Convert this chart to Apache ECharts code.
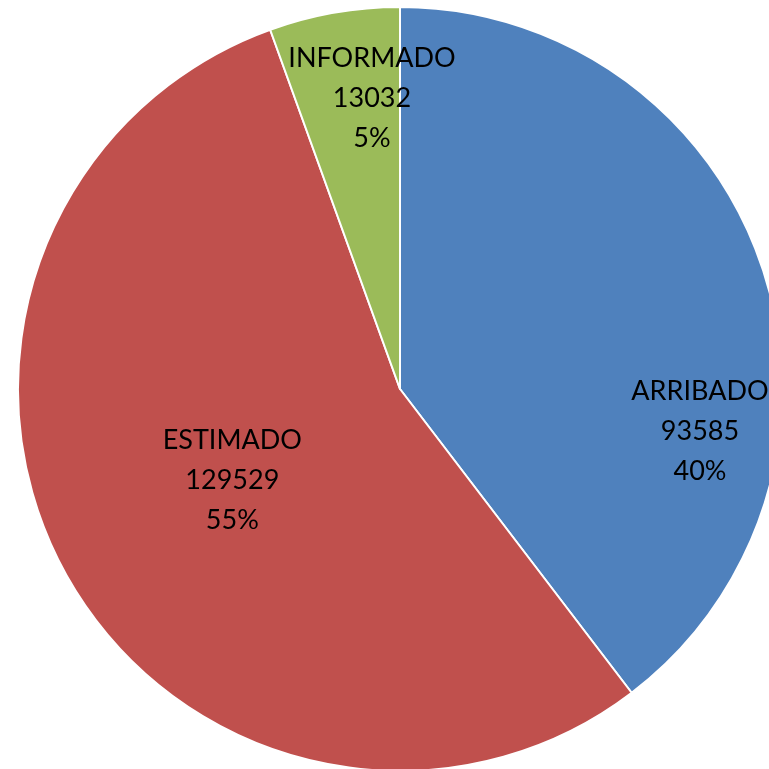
<!DOCTYPE html>
<html>
<head>
<meta charset="utf-8">
<script src="https://cdn.jsdelivr.net/npm/echarts@6/dist/echarts.min.js"></script>
<style>html,body{margin:0;padding:0;background:#fff;}#c{width:769px;height:769px;}</style>
</head>
<body>
<div id="c"></div>
<script>
var categories = ['ARRIBADO', 'ESTIMADO', 'INFORMADO'];
var values = [93585, 129529, 13032];
var colors = ['#4F81BD', '#C0504D', '#9BBB59'];
// label placement (polar: angle clockwise from top in degrees, fraction of radius)
var labelPolar = [[98, 0.793], [241.4, 0.5], [354.5, 0.765]];

var CX = 400, CY = 389, R = 382;
var chart = echarts.init(document.getElementById('c'));
chart.setOption({
  animation: false,
  series: [{
    type: 'pie',
    center: [CX, CY],
    radius: R,
    startAngle: 90,
    clockwise: true,
    percentPrecision: 0,
    data: categories.map(function (n, i) {
      return { name: n, value: values[i], itemStyle: { color: colors[i] } };
    }),
    itemStyle: { borderColor: '#ffffff', borderWidth: 2 },
    label: {
      show: true,
      position: 'inside',
      formatter: '{b}\n{c}\n{d}%',
      color: '#000',
      fontFamily: 'Lato',
      fontSize: 27,
      lineHeight: 40,
      align: 'center'
    },
    labelLine: { show: false },
    labelLayout: function (p) {
      var lp = labelPolar[p.dataIndex];
      var a = lp[0] * Math.PI / 180;
      return {
        x: CX + Math.sin(a) * R * lp[1],
        y: CY - Math.cos(a) * R * lp[1],
        align: 'center',
        verticalAlign: 'middle'
      };
    }
  }]
});
</script>
</body>
</html>
